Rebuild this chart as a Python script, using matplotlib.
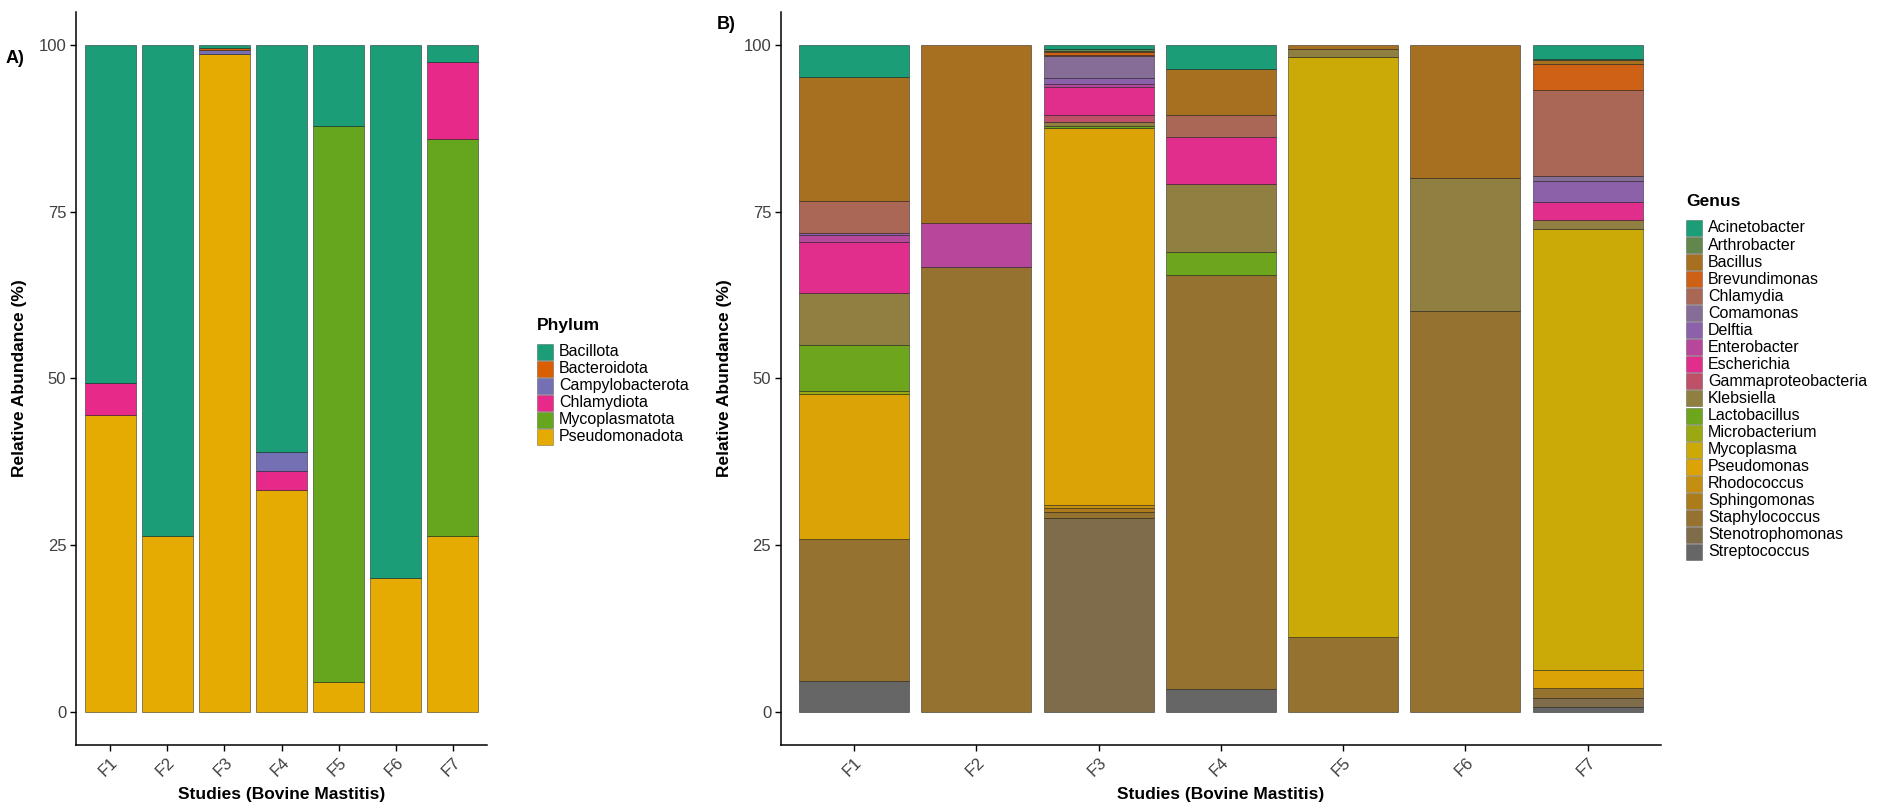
import numpy as np
import matplotlib
matplotlib.use("Agg")
import matplotlib.pyplot as plt
from matplotlib.patches import Rectangle

plt.rcParams['font.family'] = ['Liberation Sans', 'DejaVu Sans']

studies = ["F1", "F2", "F3", "F4", "F5", "F6", "F7"]

# Panel A - phylum level (%)
phyla = ["Bacillota", "Bacteroidota", "Campylobacterota", "Chlamydiota",
         "Mycoplasmatota", "Pseudomonadota"]
bacillota = [50.7, 73.7, 0.4, 61.1, 12.1, 80.0, 2.5]
bacteroidota = [0, 0, 0.3, 0, 0, 0, 0]
campylobacterota = [0, 0, 0.55, 2.8, 0, 0, 0]
chlamydiota = [4.8, 0, 0, 2.8, 0, 0, 11.5]
mycoplasmatota = [0, 0, 0, 0, 83.4, 0, 59.7]
pseudomonadota = [44.5, 26.3, 98.75, 33.3, 4.5, 20.0, 26.3]

# Panel B - genus level (%)
genera = ["Acinetobacter", "Arthrobacter", "Bacillus", "Brevundimonas", "Chlamydia",
          "Comamonas", "Delftia", "Enterobacter", "Escherichia", "Gammaproteobacteria",
          "Klebsiella", "Lactobacillus", "Microbacterium", "Mycoplasma", "Pseudomonas",
          "Rhodococcus", "Sphingomonas", "Staphylococcus", "Stenotrophomonas",
          "Streptococcus"]
acinetobacter = [4.7, 0, 0.5, 3.5, 0, 0, 2.0]
arthrobacter = [0, 0, 0.3, 0, 0, 0, 0.25]
bacillus = [18.6, 26.7, 0.2, 6.9, 0.5, 19.9, 0.5]
brevundimonas = [0, 0, 0.5, 0, 0, 0, 3.95]
chlamydia = [4.9, 0, 0.15, 3.4, 0, 0, 12.85]
comamonas = [0, 0, 3.2, 0, 0, 0, 0.75]
delftia = [0.2, 0, 1.0, 0, 0, 0, 3.2]
enterobacter = [1.1, 6.6, 0.4, 0, 0, 0, 0]
escherichia = [7.7, 0, 4.2, 7.0, 0, 0, 2.75]
gammaproteobacteria = [0, 0, 1.1, 0, 0, 0, 0]
klebsiella = [7.7, 0, 0.6, 10.2, 1.3, 20.0, 1.35]
lactobacillus = [7.0, 0, 0.3, 3.5, 0, 0, 0]
microbacterium = [0.5, 0, 0, 0, 0, 0, 0]
mycoplasma = [0, 0, 0, 0, 87.0, 0, 66.2]
pseudomonas = [21.7, 0, 56.6, 0, 0, 0, 2.7]
rhodococcus = [0, 0, 0.35, 0, 0, 0, 0]
sphingomonas = [0, 0, 0.6, 0, 0, 0, 0]
staphylococcus = [21.3, 66.7, 1.0, 62.1, 11.2, 60.1, 1.5]
stenotrophomonas = [0, 0, 29.0, 0, 0, 0, 1.3]
streptococcus = [4.6, 0, 0, 3.4, 0, 0, 0.7]

phylum_vals = [bacillota, bacteroidota, campylobacterota, chlamydiota,
               mycoplasmatota, pseudomonadota]
genus_vals = [acinetobacter, arthrobacter, bacillus, brevundimonas, chlamydia,
              comamonas, delftia, enterobacter, escherichia, gammaproteobacteria,
              klebsiella, lactobacillus, microbacterium, mycoplasma, pseudomonas,
              rhodococcus, sphingomonas, staphylococcus, stenotrophomonas,
              streptococcus]

# Dark2 palette, and a 20 colour ramp of it for genera
dark2 = np.array([[27, 158, 119], [217, 95, 2], [117, 112, 179], [231, 41, 138],
                  [102, 166, 30], [230, 171, 2], [166, 118, 29], [102, 102, 102]]) / 255.0
phylum_cols = [dark2[i] for i in range(6)]
pos = np.linspace(0, 7, 20)
genus_cols = [np.array([np.interp(p, np.arange(8), dark2[:, c]) for c in range(3)]) for p in pos]

W, H = 1901, 811
fig = plt.figure(figsize=(W / 100, H / 100), dpi=100)
axA = fig.add_axes([0.040, 0.0814, 0.2162, 0.9038])
axB = fig.add_axes([0.4108, 0.0814, 0.4629, 0.9038])

x = np.arange(1, 8)


def stacked(ax, vals, cols):
    bottom = np.zeros(7)
    # last level sits at the bottom of the stack
    for v, c in zip(vals[::-1], cols[::-1]):
        v = np.array(v, dtype=float)
        for i in range(7):
            if v[i] > 0:
                ax.bar(x[i], v[i], width=0.9, bottom=bottom[i], color=c,
                       edgecolor=(0, 0, 0, 0.6), linewidth=0.5)
        bottom += v


stacked(axA, phylum_vals, phylum_cols)
stacked(axB, genus_vals, genus_cols)

for ax in (axA, axB):
    ax.set_xlim(0.4, 7.6)
    ax.set_ylim(-5, 105)
    ax.set_yticks([0, 25, 50, 75, 100])
    ax.set_xticks(x)
    ax.set_xticklabels(studies, rotation=45, ha='right', rotation_mode='anchor')
    for s in ("top", "right"):
        ax.spines[s].set_visible(False)
    for s in ("left", "bottom"):
        ax.spines[s].set_linewidth(1.1)
    ax.tick_params(axis='both', length=4, width=1.0, labelsize=12,
                   labelcolor='#3f3f3f', pad=3)
    ax.set_xlabel("Studies (Bovine Mastitis)", fontsize=12.5, fontweight='bold', labelpad=6)
    ax.set_ylabel("Relative Abundance (%)", fontsize=12.5, fontweight='bold', labelpad=8)

fig.text(0.003, 0.928, "A)", fontsize=13, fontweight='bold', va='center')
fig.text(0.377, 0.970, "B)", fontsize=13, fontweight='bold', va='center')


def draw_legend(names, cols, title, key_x, first_y, step=17.0):
    # positions given in pixels from the top-left corner
    fig.text(key_x / W, 1 - (first_y - 26) / H, title, fontsize=12.5,
             fontweight='bold', va='center', ha='left')
    for i, (n, c) in enumerate(zip(names, cols)):
        yc = first_y + i * step
        fig.patches.append(Rectangle((key_x / W, 1 - (yc + 8) / H), 16 / W, 16 / H,
                                     transform=fig.transFigure, facecolor=c,
                                     edgecolor=(0, 0, 0, 0.45), linewidth=0.4))
        fig.text((key_x + 22) / W, 1 - yc / H, n, fontsize=11.5, va='center', ha='left')


draw_legend(phyla, phylum_cols, "Phylum", 537, 352, 16.9)
draw_legend(genera, genus_cols, "Genus", 1686, 228, 17.05)

fig.savefig("out.png", dpi=100)
